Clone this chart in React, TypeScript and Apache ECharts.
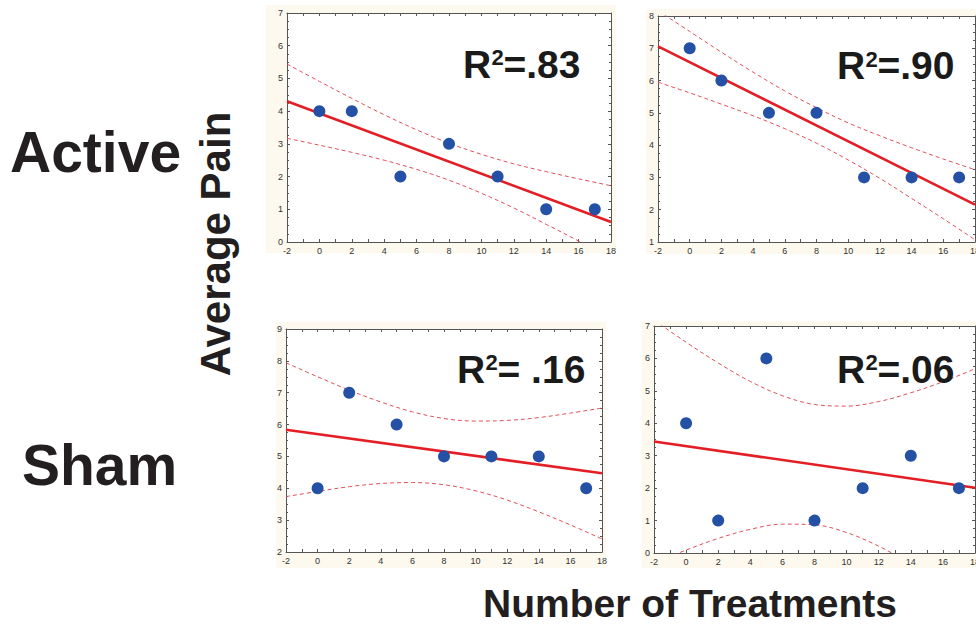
import React, { useEffect, useRef } from "react";
import * as echarts from "echarts";

// ---- data ----
const TREATMENTS = [0, 2, 5, 8, 11, 14, 17];
const BAND_X = [-2, 0, 2, 4, 6, 8, 10, 12, 14, 16, 18];
const FIT_X = [-2, 18];

const ACTIVE_A_PAIN = [4, 4, 2, 3, 2, 1, 1];
const ACTIVE_A_FIT = [4.3, 0.61];
const ACTIVE_A_UPPER = [5.44, 4.91, 4.39, 3.89, 3.43, 3.02, 2.68, 2.39, 2.15, 1.93, 1.72];
const ACTIVE_A_LOWER = [3.17, 2.96, 2.74, 2.5, 2.22, 1.89, 1.49, 1.04, 0.54, 0.03, -0.51];

const ACTIVE_B_PAIN = [7, 6, 5, 5, 3, 3, 3];
const ACTIVE_B_FIT = [7.06, 2.16];
const ACTIVE_B_UPPER = [8.17, 7.52, 6.88, 6.26, 5.68, 5.16, 4.69, 4.29, 3.92, 3.57, 3.24];
const ACTIVE_B_LOWER = [5.95, 5.62, 5.27, 4.91, 4.51, 4.06, 3.54, 2.97, 2.35, 1.72, 1.07];

const SHAM_A_PAIN = [4, 7, 6, 5, 5, 5, 4];
const SHAM_A_FIT = [5.84, 4.47];
const SHAM_A_UPPER = [7.94, 7.5, 7.08, 6.71, 6.4, 6.19, 6.11, 6.13, 6.22, 6.36, 6.52];
const SHAM_A_LOWER = [3.74, 3.9, 4.05, 4.15, 4.18, 4.11, 3.92, 3.63, 3.26, 2.85, 2.41];

const SHAM_B_PAIN = [4, 1, 6, 1, 2, 3, 2];
const SHAM_B_FIT = [3.44, 2.01];
const SHAM_B_UPPER = [7.18, 6.5, 5.86, 5.29, 4.85, 4.58, 4.53, 4.67, 4.94, 5.28, 5.68];
const SHAM_B_LOWER = [-0.31, 0.09, 0.45, 0.73, 0.89, 0.87, 0.63, 0.21, -0.34, -0.97, -1.65];

const R2_LABELS = ["=.83", "=.90", "= .16", "=.06"];
const Y_MIN = [0, 1, 2, 0];
const Y_MAX = [7, 8, 9, 7];
const X_MIN = -2;
const X_MAX = 18;
const ROW_LABELS = ["Active", "Sham"];
const Y_TITLE = "Average Pain";
const X_TITLE = "Number of Treatments";

const PAINS = [ACTIVE_A_PAIN, ACTIVE_B_PAIN, SHAM_A_PAIN, SHAM_B_PAIN];
const FITS = [ACTIVE_A_FIT, ACTIVE_B_FIT, SHAM_A_FIT, SHAM_B_FIT];
const UPPERS = [ACTIVE_A_UPPER, ACTIVE_B_UPPER, SHAM_A_UPPER, SHAM_B_UPPER];
const LOWERS = [ACTIVE_A_LOWER, ACTIVE_B_LOWER, SHAM_A_LOWER, SHAM_B_LOWER];

// ---- layout ----
const PLOTS = [
  { left: 287, top: 13, width: 324, height: 229 },
  { left: 658, top: 16, width: 317, height: 226 },
  { left: 286, top: 329, width: 316, height: 223 },
  { left: 654, top: 326, width: 321, height: 227 },
];
const PANELS = [
  { x: 266, y: 5, w: 350, h: 248 },
  { x: 646, y: 9, w: 340, h: 245 },
  { x: 276, y: 322, w: 330, h: 246 },
  { x: 642, y: 321, w: 340, h: 247 },
];
const R2_POS = [
  { x: 463, cy: 64 },
  { x: 837, cy: 65.5 },
  { x: 457, cy: 369 },
  { x: 837, cy: 369 },
];

const FONT = "'Liberation Sans', Arial, Helvetica, sans-serif";
const AXIS_COLOR = "#555555";
const DOT_COLOR = "#2451a6";
const RED = "#e31e24";
const BAND_RED = "#e0505a";

export default function App() {
  const ref = useRef<HTMLDivElement>(null);

  useEffect(() => {
    if (!ref.current) return;
    const chart = echarts.init(ref.current, undefined, { renderer: "svg" });

    const grids: any[] = [];
    const xAxes: any[] = [];
    const yAxes: any[] = [];
    const series: any[] = [];
    const graphics: any[] = [];

    PLOTS.forEach((p, i) => {
      grids.push({
        left: p.left,
        top: p.top,
        width: p.width,
        height: p.height,
        show: true,
        backgroundColor: "#ffffff",
        borderWidth: 0,
        containLabel: false,
        outerBoundsMode: "none",
      });
      const tickCommon = {
        axisLine: { show: true, onZero: false, lineStyle: { color: AXIS_COLOR, width: 1 } },
        axisTick: { show: true, inside: true, length: 3, lineStyle: { color: AXIS_COLOR, width: 1 } },
        splitLine: { show: false },
      };
      const labelStyle = { fontSize: 9, color: "#333", fontFamily: FONT, margin: 4 };
      xAxes.push({
        type: "value",
        gridIndex: i,
        position: "bottom",
        min: X_MIN,
        max: X_MAX,
        interval: 2,
        ...tickCommon,
        minorTick: { show: true, splitNumber: 2, length: 3, lineStyle: { color: AXIS_COLOR } },
        axisLabel: labelStyle,
      });
      xAxes.push({
        type: "value",
        gridIndex: i,
        position: "top",
        min: X_MIN,
        max: X_MAX,
        interval: 2,
        ...tickCommon,
        minorTick: { show: true, splitNumber: 2, length: 3, lineStyle: { color: AXIS_COLOR } },
        axisLabel: { show: false },
      });
      yAxes.push({
        type: "value",
        gridIndex: i,
        position: "left",
        min: Y_MIN[i],
        max: Y_MAX[i],
        interval: 1,
        ...tickCommon,
        minorTick: { show: true, splitNumber: 4, length: 2, lineStyle: { color: AXIS_COLOR } },
        axisLabel: labelStyle,
      });
      yAxes.push({
        type: "value",
        gridIndex: i,
        position: "right",
        min: Y_MIN[i],
        max: Y_MAX[i],
        interval: 1,
        ...tickCommon,
        minorTick: { show: true, splitNumber: 4, length: 2, lineStyle: { color: AXIS_COLOR } },
        axisLabel: { show: false },
      });

      const xi = 2 * i;
      const yi = 2 * i;
      [UPPERS[i], LOWERS[i]].forEach((band) => {
        series.push({
          type: "line",
          xAxisIndex: xi,
          yAxisIndex: yi,
          data: BAND_X.map((x, k) => [x, band[k]]),
          smooth: 0.35,
          showSymbol: false,
          symbol: "none",
          clip: true,
          lineStyle: { color: BAND_RED, width: 1, type: [4, 3] },
          z: 2,
        });
      });
      series.push({
        type: "line",
        xAxisIndex: xi,
        yAxisIndex: yi,
        data: FIT_X.map((x, k) => [x, FITS[i][k]]),
        showSymbol: false,
        symbol: "none",
        clip: true,
        lineStyle: { color: RED, width: 2.6 },
        z: 3,
      });
      series.push({
        type: "scatter",
        xAxisIndex: xi,
        yAxisIndex: yi,
        data: TREATMENTS.map((x, k) => [x, PAINS[i][k]]),
        symbolSize: 12,
        itemStyle: { color: DOT_COLOR, opacity: 1 },
        z: 4,
      });

      const b = PANELS[i];
      graphics.push({
        type: "rect",
        z: -10,
        shape: { x: b.x, y: b.y, width: b.w, height: b.h },
        style: { fill: "#fdf9ee" },
        silent: true,
      });

      const r = R2_POS[i];
      graphics.push({
        type: "text",
        z: 100,
        x: r.x,
        y: r.cy,
        style: {
          text: "R",
          fontFamily: FONT,
          fontWeight: "bold",
          fontSize: 39,
          fill: "#1a1a1a",
          align: "left",
          verticalAlign: "middle",
        },
      });
      graphics.push({
        type: "text",
        z: 100,
        x: r.x + 28.5,
        y: r.cy - 6.5,
        style: {
          text: "2",
          fontFamily: FONT,
          fontWeight: "bold",
          fontSize: 22,
          fill: "#1a1a1a",
          align: "left",
          verticalAlign: "middle",
        },
      });
      graphics.push({
        type: "text",
        z: 100,
        x: r.x + 40.5,
        y: r.cy,
        style: {
          text: R2_LABELS[i],
          fontFamily: FONT,
          fontWeight: "bold",
          fontSize: 39,
          fill: "#1a1a1a",
          align: "left",
          verticalAlign: "middle",
        },
      });
    });

    graphics.push({
      type: "text",
      z: 100,
      x: 10,
      y: 152,
      style: {
        text: ROW_LABELS[0],
        fontFamily: FONT,
        fontWeight: "bold",
        fontSize: 57,
        fill: "#231f20",
        align: "left",
        verticalAlign: "middle",
      },
    });
    graphics.push({
      type: "text",
      z: 100,
      x: 22,
      y: 465,
      style: {
        text: ROW_LABELS[1],
        fontFamily: FONT,
        fontWeight: "bold",
        fontSize: 57,
        fill: "#231f20",
        align: "left",
        verticalAlign: "middle",
      },
    });
    graphics.push({
      type: "text",
      z: 100,
      x: 215,
      y: 244,
      rotation: Math.PI / 2,
      style: {
        text: Y_TITLE,
        fontFamily: FONT,
        fontWeight: "bold",
        fontSize: 42,
        fill: "#231f20",
        align: "center",
        verticalAlign: "middle",
      },
    });
    graphics.push({
      type: "text",
      z: 100,
      x: 690,
      y: 603,
      style: {
        text: X_TITLE,
        fontFamily: FONT,
        fontWeight: "bold",
        fontSize: 39,
        fill: "#231f20",
        align: "center",
        verticalAlign: "middle",
      },
    });

    chart.setOption({
      animation: false,
      backgroundColor: "#ffffff",
      grid: grids,
      xAxis: xAxes,
      yAxis: yAxes,
      series,
      graphic: graphics,
    });

    return () => chart.dispose();
  }, []);

  return (
    <div
      ref={ref}
      style={{ position: "fixed", left: 0, top: 0, width: 976, height: 625 }}
    />
  );
}
